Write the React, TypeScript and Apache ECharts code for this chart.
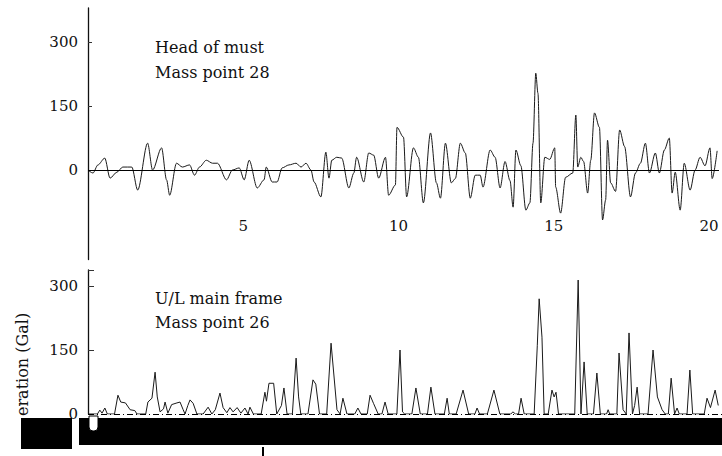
import React, { useEffect, useRef } from "react";
import * as echarts from "echarts";

// Upper panel: Head of must, mass point 28 (time s, acceleration Gal)
const topTimes = [0,0.16,0.32,0.54,0.71,0.93,1.12,1.41,1.6,1.92,2.08,2.37,2.53,2.63,2.85,3.04,3.27,3.43,3.59,3.81,4.01,4.17,4.46,4.65,4.87,5.03,5.19,5.45,5.67,5.74,5.93,6.09,6.25,6.47,6.7,6.86,7.02,7.18,7.28,7.5,7.66,7.76,7.85,8.01,8.17,8.4,8.56,8.65,8.88,9.04,9.2,9.36,9.58,9.68,9.9,9.95,10.16,10.26,10.48,10.64,10.8,11.03,11.22,11.35,11.51,11.7,11.83,11.99,12.15,12.31,12.47,12.63,12.72,12.95,13.11,13.27,13.43,13.59,13.69,13.78,13.94,14.1,14.23,14.33,14.42,14.49,14.58,14.71,14.87,15.03,15.06,15.22,15.38,15.61,15.71,15.77,15.87,15.96,16.09,16.19,16.31,16.47,16.57,16.67,16.73,16.83,16.99,17.12,17.28,17.47,17.63,17.79,17.95,18.08,18.27,18.4,18.56,18.72,18.81,18.91,19.07,19.2,19.39,19.55,19.71,19.87,20.03,20.1,20.26];
const topValues = [0,-7,12,28,-19,-5,7,7,-47,63,0,52,-23,-59,16,7,12,-12,7,23,16,16,-23,0,5,-23,23,-42,-23,7,-28,-28,5,12,16,7,16,0,-28,-63,42,-19,23,30,28,-42,-7,30,-28,40,35,-19,30,-59,-35,100,77,-63,52,30,-77,87,-30,-66,63,-30,-20,63,40,-66,-12,-12,-40,47,30,-42,20,-25,-87,47,10,-94,-77,63,227,180,-77,30,25,52,-40,-101,-17,-7,129,7,30,20,-54,23,134,100,-117,-70,70,-30,-50,94,55,-63,-7,16,63,-7,40,-7,47,75,-54,-5,-94,16,-47,0,30,10,52,-20,45];

// Lower panel: U/L main frame, mass point 26
const bottomTimes = [0,0.3,0.38,0.45,0.54,0.62,0.85,0.96,1.05,1.2,1.35,1.5,1.57,1.85,1.92,2.05,2.15,2.22,2.31,2.42,2.47,2.56,2.68,2.85,2.95,3.05,3.11,3.2,3.27,3.37,3.49,3.69,3.85,3.97,4.08,4.23,4.33,4.45,4.55,4.65,4.78,4.9,5.03,5.13,5.19,5.3,5.55,5.67,5.72,5.8,5.95,6.05,6.2,6.28,6.38,6.55,6.67,6.75,6.82,7.05,7.21,7.3,7.42,7.65,7.79,7.98,8.08,8.17,8.3,8.55,8.65,8.75,8.95,9.04,9.15,9.3,9.42,9.52,9.62,9.9,10.0,10.08,10.15,10.38,10.51,10.65,10.88,10.99,11.12,11.42,11.51,11.58,11.8,12.02,12.2,12.4,12.47,12.55,12.8,13.01,13.2,13.55,13.62,13.7,13.8,13.88,13.98,14.3,14.4,14.46,14.55,14.62,14.75,14.87,14.94,15.0,15.08,15.6,15.71,15.8,15.9,16.0,16.2,16.31,16.42,16.62,16.67,16.72,16.95,17.02,17.15,17.25,17.34,17.45,17.52,17.6,17.68,17.95,18.11,18.25,18.4,18.5,18.6,18.69,18.8,18.88,18.95,19.2,19.29,19.38,19.75,19.84,19.95,20.1,20.2];
const bottomValues = [0,0,9,2,14,0,0,44,28,26,10,8,0,0,28,37,98,40,5,12,28,2,22,26,28,10,0,20,33,25,0,0,16,0,10,49,15,3,15,5,15,2,14,0,16,0,0,51,30,72,72,0,20,61,0,0,131,40,0,0,80,70,0,0,166,10,0,37,0,0,14,0,0,44,25,0,0,28,0,0,150,5,0,0,61,0,0,63,0,0,37,0,0,56,0,0,14,0,0,56,0,0,5,0,0,37,0,0,160,270,180,0,0,56,40,51,0,0,314,0,122,0,0,96,0,0,10,0,0,143,10,0,190,0,20,63,0,0,150,40,10,0,0,84,0,14,0,0,103,0,0,37,15,56,20];

const yLabelValues = [0, 150, 300];
const xLabelValues = [5, 10, 15, 20];

const SERIF = '"DejaVu Serif", "Liberation Serif", serif';

export default function App() {
  const ref = useRef<HTMLDivElement>(null);
  useEffect(() => {
    if (!ref.current) return;
    const chart = echarts.init(ref.current, null, { renderer: "svg" });
    const topData = topTimes.map((t, i) => [t, topValues[i]]);
    const bottomData = bottomTimes.map((t, i) => [t, bottomValues[i]]);
    const yLabelFmt = (v: number) => (yLabelValues.includes(v) ? String(v) : "");
    const xLabelFmt = (v: number) =>
      xLabelValues.some((x) => Math.abs(x - v) < 1e-6) ? String(Math.round(v)) : "";
    const labelStyle = { fontFamily: SERIF, fontSize: 15, color: "#111" };
    const option: any = {
      animation: false,
      backgroundColor: "#fff",
      grid: [
        { left: 88, top: 8, width: 634, height: 251.6 },
        { left: 88, top: 270, width: 634, height: 144 },
      ],
      xAxis: [
        {
          gridIndex: 0, type: "value", min: 0, max: 20.32, interval: 5,
          axisLine: { show: false }, axisTick: { show: false }, splitLine: { show: false },
          axisLabel: { ...labelStyle, margin: -41, formatter: xLabelFmt },
        },
        { gridIndex: 1, type: "value", min: 0, max: 20.32, show: false },
      ],
      yAxis: [
        {
          gridIndex: 0, type: "value", min: -210, max: 380, interval: 30,
          axisLine: { show: true, lineStyle: { color: "#111", width: 1.3 } },
          axisTick: { show: true, inside: true, length: 4, customValues: [150, 300], lineStyle: { color: "#333" } },
          splitLine: { show: false },
          axisLabel: { ...labelStyle, margin: 10, customValues: yLabelValues, formatter: yLabelFmt },
        },
        {
          gridIndex: 1, type: "value", min: 0, max: 337.5, interval: 150,
          axisLine: { show: true, lineStyle: { color: "#111", width: 1.3 } },
          axisTick: { show: true, inside: true, length: 6, lineStyle: { color: "#333" } },
          splitLine: { show: false },
          axisLabel: { ...labelStyle, margin: 10, formatter: yLabelFmt },
        },
      ],
      series: [
        {
          type: "line", xAxisIndex: 0, yAxisIndex: 0, data: topData,
          showSymbol: false, smooth: 0.3, smoothMonotone: "x",
          lineStyle: { color: "#1a1a1a", width: 1 },
          markLine: {
            silent: true, symbol: ["none", "none"], label: { show: false },
            lineStyle: { color: "#000", width: 1.2, type: "solid" },
            data: [{ yAxis: 0 }],
          },
        },
        {
          type: "line", xAxisIndex: 1, yAxisIndex: 1, data: bottomData,
          showSymbol: false,
          lineStyle: { color: "#1a1a1a", width: 1 },
          markLine: {
            silent: true, symbol: ["none", "none"], label: { show: false },
            lineStyle: { color: "#000", width: 1, type: [6, 3, 1, 3] },
            data: [{ yAxis: 0 }],
          },
        },
      ],
      graphic: [
        { type: "text", x: 155, y: 47, style: { text: "Head of must", font: `16px ${SERIF}`, fill: "#111", align: "left", verticalAlign: "middle" } },
        { type: "text", x: 155, y: 72, style: { text: "Mass point 28", font: `16px ${SERIF}`, fill: "#111", align: "left", verticalAlign: "middle" } },
        { type: "text", x: 155, y: 298, style: { text: "U/L main frame", font: `16px ${SERIF}`, fill: "#111", align: "left", verticalAlign: "middle" } },
        { type: "text", x: 155, y: 322, style: { text: "Mass point 26", font: `16px ${SERIF}`, fill: "#111", align: "left", verticalAlign: "middle" } },
        { type: "text", x: 22, y: 416, rotation: Math.PI / 2, style: { text: "eration (Gal)", font: `16px ${SERIF}`, fill: "#111", align: "left", verticalAlign: "middle" } },
        { type: "rect", shape: { x: 21, y: 418, width: 51, height: 31 }, style: { fill: "#000" }, z: 100 },
        { type: "rect", shape: { x: 79, y: 418, width: 643, height: 27 }, style: { fill: "#000" }, z: 100 },
        { type: "rect", shape: { x: 89, y: 416, width: 9, height: 15, r: [0, 0, 4, 4] }, style: { fill: "#fff", stroke: "#000", lineWidth: 1 }, z: 101 },
        { type: "rect", shape: { x: 262, y: 447, width: 2, height: 9 }, style: { fill: "#000" }, z: 100 },
      ],
    };
    chart.setOption(option);
    return () => chart.dispose();
  }, []);
  return (
    <div
      ref={ref}
      style={{ position: "fixed", left: 0, top: 0, width: 722, height: 456, background: "#fff" }}
    />
  );
}
